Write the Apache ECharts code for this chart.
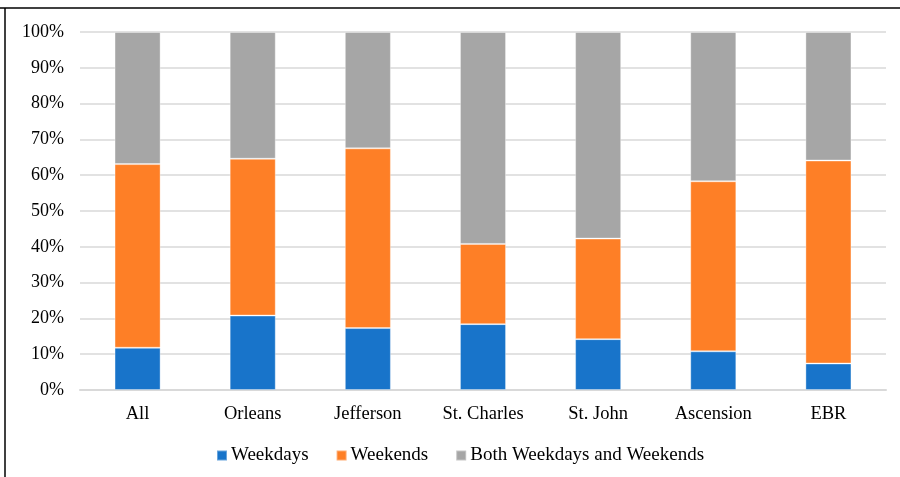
<!DOCTYPE html>
<html>
<head>
<meta charset="utf-8">
<script src="https://cdn.jsdelivr.net/npm/echarts@6/dist/echarts.min.js"></script>
<style>
  html, body { margin: 0; padding: 0; background: #fff; }
  #chart { width: 900px; height: 477px; }
</style>
</head>
<body>
<div id="chart"></div>
<script>
// Parishes shown along the x axis
const categories = ['All', 'Orleans', 'Jefferson', 'St. Charles', 'St. John', 'Ascension', 'EBR'];

// Share of responses (%) for each schedule group
const weekdays = [11.8, 20.8, 17.3, 18.4, 14.2, 10.8, 7.4];
const weekends = [51.3, 43.8, 50.2, 22.4, 28.1, 47.5, 56.7];
const both = [36.9, 35.4, 32.5, 59.2, 57.7, 41.7, 35.9];

const seriesNames = ['Weekdays', 'Weekends', 'Both Weekdays and Weekends'];
const colors = ['#1874CA', '#FE7F26', '#A6A6A6'];

const FONT = '"Liberation Serif", "Times New Roman", serif';

const chart = echarts.init(document.getElementById('chart'), null, { renderer: 'canvas' });

function barSeries(name, data, color) {
  return {
    name: name,
    type: 'bar',
    stack: 'total',
    data: data,
    barWidth: '40%',
    itemStyle: { color: color, borderColor: 'rgba(255,255,255,0.35)', borderWidth: 1 },
    emphasis: { disabled: true }
  };
}

chart.setOption({
  animation: false,
  color: colors,
  grid: { left: 80, right: 14, top: 32, bottom: 87, containLabel: false },
  graphic: [
    { type: 'line', shape: { x1: 0, y1: 8, x2: 900, y2: 8 }, style: { stroke: '#000', lineWidth: 1.5 } },
    { type: 'line', shape: { x1: 5, y1: 8, x2: 5, y2: 477 }, style: { stroke: '#000', lineWidth: 1.5 } }
  ],
  legend: {
    top: 441,
    left: 211,
    itemWidth: 10,
    itemHeight: 10,
    itemGap: 27,
    icon: 'rect',
    textStyle: { fontFamily: FONT, fontSize: 19, color: '#000', padding: [0, 0, 0, -1] },
    data: seriesNames
  },
  xAxis: {
    type: 'category',
    data: categories,
    axisLine: { lineStyle: { color: '#D9D9D9', width: 2 } },
    axisTick: { show: false },
    axisLabel: { fontFamily: FONT, fontSize: 18.5, color: '#000', margin: 15 }
  },
  yAxis: {
    type: 'value',
    min: 0,
    max: 100,
    interval: 10,
    axisLine: { show: false },
    axisTick: { show: false },
    axisLabel: { fontFamily: FONT, fontSize: 18, color: '#000', margin: 16, formatter: '{value}%' },
    splitLine: { lineStyle: { color: '#D9D9D9', width: 1.5 } }
  },
  series: [
    barSeries(seriesNames[0], weekdays, colors[0]),
    barSeries(seriesNames[1], weekends, colors[1]),
    barSeries(seriesNames[2], both, colors[2])
  ]
});
</script>
</body>
</html>
